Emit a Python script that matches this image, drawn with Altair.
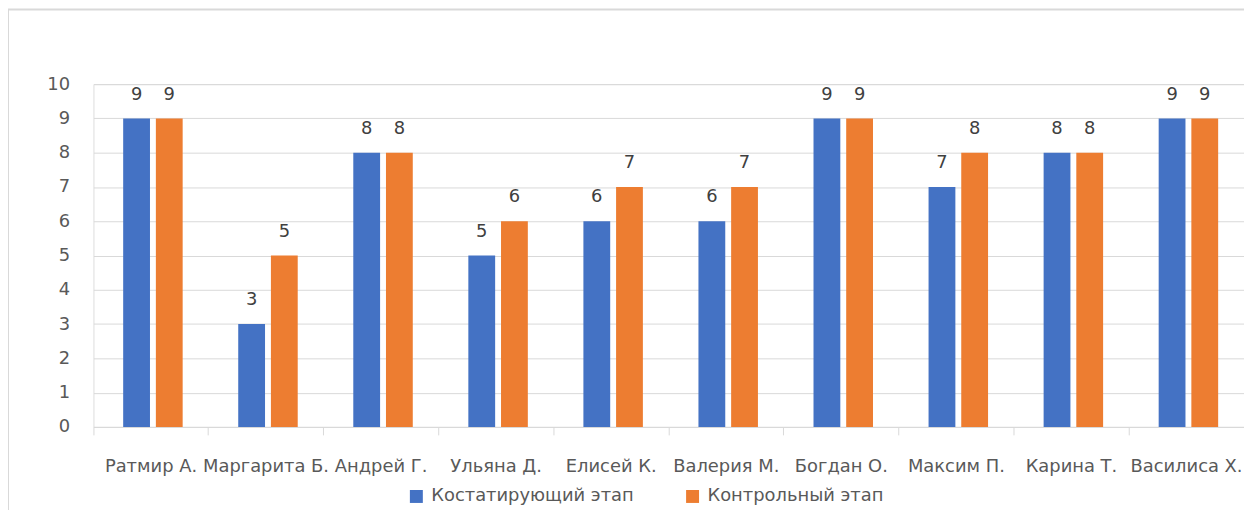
import altair as alt
import pandas as pd

names = ["Ратмир А.", "Маргарита Б.", "Андрей Г.", "Ульяна Д.", "Елисей К.",
         "Валерия М.", "Богдан О.", "Максим П.", "Карина Т.", "Василиса Х."]
series = ["Костатирующий этап", "Контрольный этап"]
stage1 = [9, 3, 8, 5, 6, 6, 9, 7, 8, 9]
stage2 = [9, 5, 8, 6, 7, 7, 9, 8, 8, 9]
colors = ["#4472C4", "#ED7D31"]
y_ticks = list(range(0, 11))

rows = []
for n, a, b in zip(names, stage1, stage2):
    rows.append({"name": n, "series": series[0], "value": a})
    rows.append({"name": n, "series": series[1], "value": b})
df = pd.DataFrame(rows)

FONT = "DejaVu Sans"

x_enc = alt.X("name:N", sort=names, title=None,
              scale=alt.Scale(paddingInner=0, paddingOuter=0),
              axis=alt.Axis(labelAngle=0, labelFont=FONT, labelFontSize=18,
                            labelColor="#595959", labelPadding=23,
                            domainColor="#d9d9d9", tickColor="#d9d9d9",
                            tickSize=8, bandPosition=0, grid=False,
                            labelLimit=200))
xoff = alt.XOffset("series:N", sort=series,
                   scale=alt.Scale(paddingInner=0.18, paddingOuter=0.85,
                                   align=0.535))
y_enc = alt.Y("value:Q", title=None,
              scale=alt.Scale(domain=[0, 10], nice=False),
              axis=alt.Axis(values=y_ticks, tickCount=11, labelFont=FONT,
                            labelFontSize=18, labelOverlap=False,
                            labelColor="#595959", labelPadding=24,
                            domain=False, ticks=False, grid=True,
                            gridColor="#d9d9d9", gridWidth=1))

base = alt.Chart(df)

bars = base.mark_bar().encode(
    x=x_enc, xOffset=xoff, y=y_enc,
    color=alt.Color("series:N", sort=series,
                    scale=alt.Scale(domain=series, range=colors),
                    legend=alt.Legend(title=None, orient="none", legendX=316,
                                      legendY=406, direction="horizontal",
                                      symbolType="square", symbolSize=170,
                                      symbolStrokeWidth=0, labelLimit=400,
                                      labelFont=FONT, labelFontSize=18,
                                      labelColor="#595959", columnPadding=50,
                                      labelOffset=6)),
)

labels = base.mark_text(font=FONT, fontSize=18, color="#404040",
                        baseline="alphabetic", dy=-19).encode(
    x=x_enc, xOffset=xoff, y=y_enc,
    text=alt.Text("value:Q"),
)

frame = alt.Chart(pd.DataFrame({"f": [0]})).mark_rect(
    fill=None, stroke="#d9d9d9", strokeWidth=2
).encode(x=alt.value(-86), y=alt.value(-75), x2=alt.value(1400), y2=alt.value(700))

chart = alt.layer(frame, bars, labels).properties(
    width=1158, height=345,
    autosize=alt.AutoSizeParams(type="none"),
    padding={"left": 86, "top": 75, "right": 0, "bottom": 82},
).configure_view(stroke=None).configure(background="white")

chart.save("out.html", embed_options={"renderer": "svg", "actions": False})
